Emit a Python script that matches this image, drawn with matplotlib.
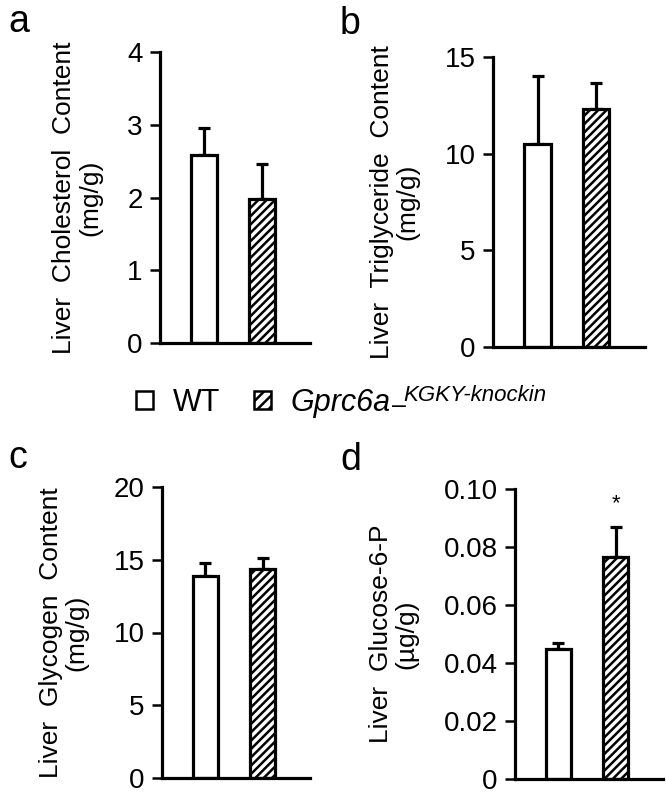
import matplotlib
matplotlib.use("Agg")
import matplotlib.pyplot as plt
from matplotlib.patches import Patch

plt.rcParams["font.family"] = ["Liberation Sans", "DejaVu Sans"]
plt.rcParams["hatch.linewidth"] = 1.8

W, H = 666, 795

groups = ["WT", "Gprc6a KGKY-knockin"]
chol_mean = [2.58, 1.98]
chol_err = [0.38, 0.48]
tg_mean = [10.49, 12.31]
tg_err = [3.53, 1.33]
glyc_mean = [13.88, 14.34]
glyc_err = [0.87, 0.76]
g6p_mean = [0.0447, 0.0767]
g6p_err = [0.0021, 0.0103]

panels = [
    # letter, means, errs, ylabel, ticks, ticklabels, axes box in px (l, t, r, b)
    ("a", chol_mean, chol_err, "Liver  Cholesterol  Content\n(mg/g)",
     [0, 1, 2, 3, 4], ["0", "1", "2", "3", "4"], (160, 52, 310, 343)),
    ("b", tg_mean, tg_err, "Liver  Triglyceride  Content\n(mg/g)",
     [0, 5, 10, 15], ["0", "5", "10", "15"], (493, 57, 645, 347)),
    ("c", glyc_mean, glyc_err, "Liver  Glycogen  Content\n(mg/g)",
     [0, 5, 10, 15, 20], ["0", "5", "10", "15", "20"], (162, 487, 310, 778)),
    ("d", g6p_mean, g6p_err, "Liver  Glucose-6-P\n(\u00b5g/g)",
     [0, 0.02, 0.04, 0.06, 0.08, 0.10], ["0", "0.02", "0.04", "0.06", "0.08", "0.10"],
     (515, 489, 663, 779)),
]
letter_pos = {"a": (8, 32), "b": (340, 34), "c": (8, 468), "d": (340, 470)}

fig = plt.figure(figsize=(W / 100, H / 100), dpi=100)

lw = 2.3
for letter, means, errs, ylab, ticks, tlabels, (l, t, r, b) in panels:
    ax = fig.add_axes([l / W, 1 - b / H, (r - l) / W, (b - t) / H])
    xs = [0, 1]
    bars = ax.bar(xs, means, width=0.45, color="white", edgecolor="black",
                  linewidth=lw, zorder=2)
    bars[1].set_hatch("////")
    ax.errorbar(xs, means, yerr=[[0, 0], errs], fmt="none", ecolor="black",
                elinewidth=lw, capsize=4, capthick=lw, zorder=1)
    ax.set_xlim(-0.76, 1.83)
    ax.set_ylim(0, ticks[-1])
    ax.set_yticks(ticks)
    ax.set_yticklabels(tlabels)
    ax.set_xticks([])
    for s in ["top", "right"]:
        ax.spines[s].set_visible(False)
    for s in ["left", "bottom"]:
        ax.spines[s].set_linewidth(lw)
        ax.spines[s].set_clip_on(False)
    ax.tick_params(axis="y", length=7.5, width=1.8, labelsize=20, pad=5)
    ax.set_ylabel(ylab, fontsize=19, linespacing=1.1, labelpad=18)
    fig.text(letter_pos[letter][0] / W, 1 - letter_pos[letter][1] / H, letter,
             fontsize=27, va="baseline", ha="left")
    if letter == "d":
        ax.text(1, 0.095, "*", ha="center", va="center", fontsize=16)

# legend
handles = [Patch(facecolor="white", edgecolor="black", linewidth=1.8),
           Patch(facecolor="white", edgecolor="black", linewidth=1.8, hatch="///")]
leg = fig.legend(handles, ["WT", "Gprc6a"], loc="center left",
                 bbox_to_anchor=(121 / W, 1 - 403 / H), ncol=2, frameon=False,
                 fontsize=22, handlelength=0.55, handleheight=0.55,
                 handletextpad=0.65, columnspacing=1.1, borderpad=0)
leg.get_texts()[1].set_style("italic")
fig.canvas.draw()
bb = leg.get_texts()[1].get_window_extent()
x0 = (bb.x1 + 1) / W
fig.text(x0, bb.y0 / H + 0.006, "\u2013", fontsize=18, va="baseline", ha="left")
fig.text(x0 + 12 / W, bb.y0 / H + 0.021, "KGKY-knockin", fontsize=16,
         style="italic", va="baseline", ha="left")

fig.savefig("out.png", dpi=100)
